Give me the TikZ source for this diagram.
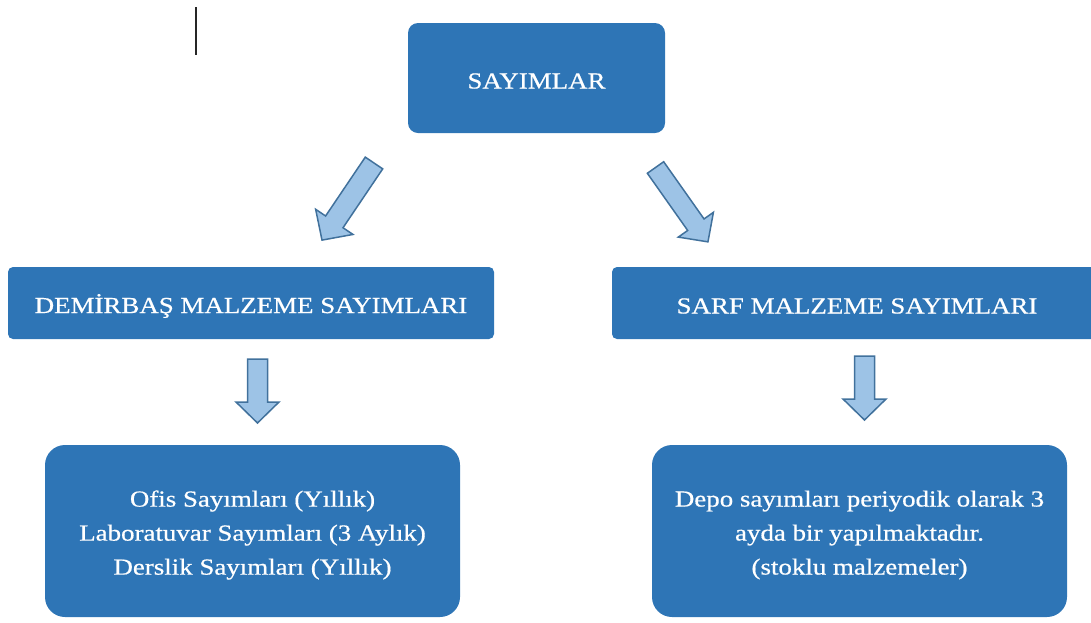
\documentclass[tikz,border=0pt]{standalone}
\usepackage{fontspec}
\setmainfont{Liberation Serif}[FakeStretch=1.17, FakeBold=0.6]
\definecolor{boxblue}{HTML}{2E75B6}
\definecolor{arrowfill}{HTML}{9DC3E6}
\definecolor{arrowline}{HTML}{41719C}
\tikzset{
  bluebox/.style={fill=boxblue, draw=none},
  boxtext/.style={text=white, align=center, inner sep=0pt, font=\fontsize{23}{34}\selectfont},
  blockarrow/.style={fill=arrowfill, draw=arrowline, line width=1.5pt, line join=miter}
}
% tail point, canvas angle, length, shaft half-width, head half-width, head length
\newcommand\myblockarrow[6]{%
  \begin{scope}[shift={(#1)}, rotate=#2]
    \draw[blockarrow] (0,-#4) -- ({#3-#6},-#4) -- ({#3-#6},-#5) -- (#3,0) -- ({#3-#6},#5) -- ({#3-#6},#4) -- (0,#4) -- cycle;
  \end{scope}}
\begin{document}
\begin{tikzpicture}[x=1pt,y=-1pt]
\useasboundingbox (0,0) rectangle (1091,622);
% cursor mark
\coordinate (c1) at (196,7);
\coordinate (c2) at (196,55);
\draw[line width=1.6pt, black!85] (c1) -- (c2);
% boxes
\node[bluebox, rounded corners=10pt, minimum width=257pt, minimum height=110pt] (top) at (536.5,78) {};
\node[bluebox, rounded corners=5pt, minimum width=486pt, minimum height=72pt] (dem) at (251,303) {};
\node[bluebox, rounded corners=5pt, minimum width=490pt, minimum height=72pt] (sarf) at (857,303) {};
\node[bluebox, rounded corners=20pt, minimum width=415pt, minimum height=172pt] (ofis) at (252.5,531) {};
\node[bluebox, rounded corners=20pt, minimum width=415pt, minimum height=172pt] (depo) at (859.5,531) {};
% texts
\node[boxtext] (topt) at ([yshift=-3pt]top.center) {SAYIMLAR};
\node[boxtext] (demt) at ([yshift=-3pt]dem.center) {DEMİRBAŞ MALZEME SAYIMLARI};
\node[boxtext] (sarft) at ([yshift=-3pt]sarf.center) {SARF MALZEME SAYIMLARI};
\node[boxtext] (ofist) at ([yshift=-4pt]ofis.center) {Ofis Sayımları (Yıllık)\\Laboratuvar Sayımları (3 Aylık)\\Derslik Sayımları (Yıllık)};
\node[boxtext] (depot) at ([yshift=-4pt]depo.center) {Depo sayımları periyodik olarak 3\\ayda bir yapılmaktadır.\\(stoklu malzemeler)};
% block arrows
\coordinate (a1) at (374,163);
\coordinate (a2) at (655.5,167.5);
\coordinate (a3) at (257.5,359);
\coordinate (a4) at (864.5,356);
\myblockarrow{a1}{-124}{93}{10.5}{22.5}{22}
\myblockarrow{a2}{-54.8}{91}{10}{21.5}{21}
\myblockarrow{a3}{-90}{64}{10}{21.5}{21}
\myblockarrow{a4}{-90}{64}{10}{21.5}{21}
\end{tikzpicture}
\end{document}
